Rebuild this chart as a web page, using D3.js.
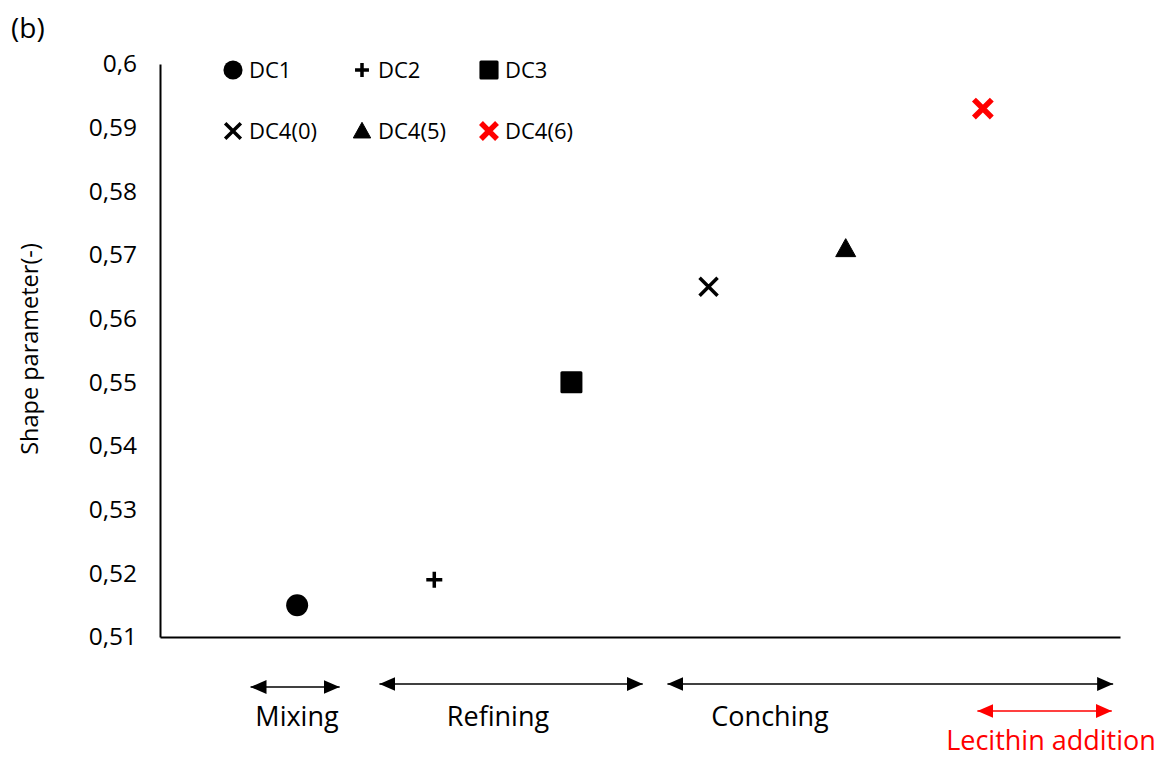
<!DOCTYPE html>
<html><head><meta charset="utf-8">
<script src="https://cdn.jsdelivr.net/npm/d3@7"></script>
<style>body{margin:0;background:#fff}svg{display:block}text{font-family:"Open Sans",sans-serif}</style>
</head><body><svg id="c" width="1168" height="757"></svg>
<script>
// ---- data ----
const categories = ["DC1","DC2","DC3","DC4(0)","DC4(5)","DC4(6)"];
const xPositions = [1,2,3,4,5,6];
const shapeValues = [0.515,0.519,0.550,0.565,0.571,0.593];
const markerTypes = ["circle","plus","square","x","triangle","star"];
const markerColors = ["#000","#000","#000","#000","#000","#ff0000"];
const yTicks = [0.51,0.52,0.53,0.54,0.55,0.56,0.57,0.58,0.59,0.6];
const yTickLabels = ["0,51","0,52","0,53","0,54","0,55","0,56","0,57","0,58","0,59","0,6"];
const stageNames = ["Mixing","Refining","Conching","Lecithin addition"];
const stageStart = [0.66,1.60,3.70,5.96];
const stageEnd = [1.31,3.52,6.95,6.94];
const stageColors = ["#000","#000","#000","#ff0000"];

const svg = d3.select("#c");
const x = d3.scaleLinear().domain([0,7]).range([160,1120]);
const y = d3.scaleLinear().domain([0.51,0.6]).range([637,64]);

function marker(g, type, color, s){
  const k = s;
  if(type==="circle") g.append("circle").attr("r",11*k).attr("fill",color);
  else if(type==="square") g.append("rect").attr("x",-11*k).attr("y",-11*k).attr("width",22*k).attr("height",22*k).attr("rx",1.5).attr("fill",color);
  else if(type==="triangle") g.append("path").attr("d",`M0,${-10*k}L${10*k},${8*k}L${-10*k},${8*k}Z`).attr("fill",color).attr("stroke",color).attr("stroke-width",1).attr("stroke-linejoin","round");
  else if(type==="plus") g.append("path").attr("d",`M${-8*k},0H${8*k}M0,${-8*k}V${8*k}`).attr("stroke",color).attr("stroke-width",3.5);
  else if(type==="x") g.append("path").attr("d",`M${-9*k},${-9*k}L${9*k},${9*k}M${9*k},${-9*k}L${-9*k},${9*k}`).attr("stroke",color).attr("stroke-width",3.5);
  else if(type==="star") g.append("path").attr("d",`M${-7*k},${-7*k}L${7*k},${7*k}M${7*k},${-7*k}L${-7*k},${7*k}`).attr("stroke",color).attr("stroke-width",5.5).attr("stroke-linecap","square");
}

// axes
const yAxis = d3.axisLeft(y).tickValues(yTicks).tickFormat((d,i)=>yTickLabels[i]).tickSize(0).tickPadding(23);
const ga = svg.append("g").attr("transform","translate(160,0)").call(yAxis);
ga.select(".domain").attr("stroke","#000").attr("stroke-width",2);
ga.selectAll("text").attr("font-size",24.5).attr("fill","#000").attr("font-family","'Open Sans',sans-serif");
const xAxis = d3.axisBottom(x).tickValues([]).tickSize(0);
const gx = svg.append("g").attr("transform","translate(0,637)").call(xAxis);
gx.select(".domain").attr("stroke","#000").attr("stroke-width",2);

svg.append("text").attr("transform","translate(38,349) rotate(-90)").attr("text-anchor","middle").attr("font-size",23.5).text("Shape parameter(-)");
svg.append("text").attr("x",11).attr("y",38).attr("font-size",28).text("(b)");

// points
categories.forEach((c,i)=>{
  const g = svg.append("g").attr("transform",`translate(${x(xPositions[i])},${y(shapeValues[i])})`);
  marker(g, markerTypes[i], markerColors[i], 1);
});

// legend
const legX = [233,362,489], legY=[70,131];
categories.forEach((c,i)=>{
  const lx = legX[i%3], ly = legY[Math.floor(i/3)];
  const g = svg.append("g").attr("transform",`translate(${lx},${ly})`);
  marker(g, markerTypes[i], markerColors[i], 0.87);
  svg.append("text").attr("x",lx+16).attr("y",ly+8).attr("font-size",22).text(c);
});

// arrows
const defs = svg.append("defs");
["#000","#ff0000"].forEach((col,j)=>{
  defs.append("marker").attr("id","ah"+j).attr("viewBox","0 0 16 14").attr("refX",16).attr("refY",7)
    .attr("markerWidth",16).attr("markerHeight",14).attr("markerUnits","userSpaceOnUse").attr("orient","auto-start-reverse")
    .append("path").attr("d","M0,0L16,7L0,14Z").attr("fill",col);
});
const arrowY = [687,684,684,711], labelY=[726,726,726,750];
stageNames.forEach((n,i)=>{
  const j = stageColors[i]==="#000"?0:1;
  svg.append("line").attr("x1",x(stageStart[i])).attr("x2",x(stageEnd[i])).attr("y1",arrowY[i]).attr("y2",arrowY[i])
    .attr("stroke",stageColors[i]).attr("stroke-width",1.5)
    .attr("marker-start",`url(#ah${j})`).attr("marker-end",`url(#ah${j})`);
});
const labelX = [297,498,770,1051];
const labelSize = [27,27,27,27];
stageNames.forEach((n,i)=>{
  svg.append("text").attr("x",labelX[i]).attr("y",labelY[i]).attr("text-anchor","middle").attr("font-size",labelSize[i])
    .attr("fill",stageColors[i]).text(n);
});
</script></body></html>
